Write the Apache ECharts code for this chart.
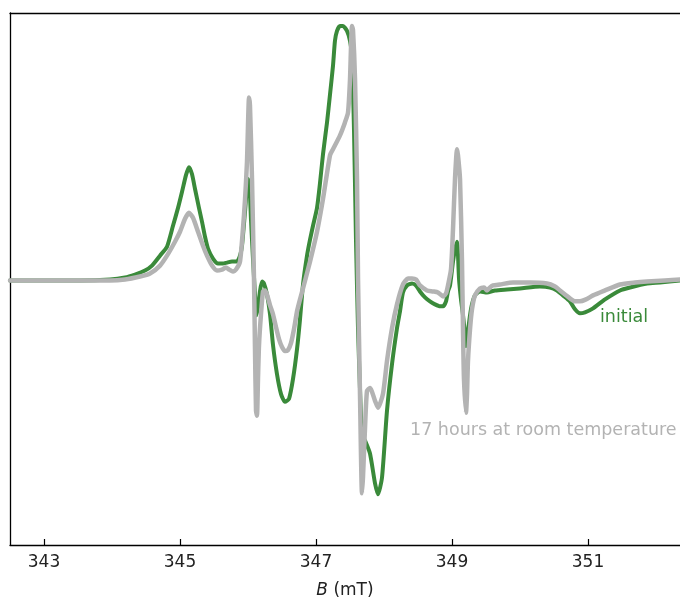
<!DOCTYPE html>
<html>
<head>
<meta charset="utf-8">
<script src="https://cdn.jsdelivr.net/npm/echarts@6/dist/echarts.min.js"></script>
<style>html,body{margin:0;padding:0;background:#fff}#c{width:680px;height:604px}</style>
</head>
<body>
<div id="c"></div>
<script>
// Magnetic field B (mT) and EPR signal (arb. units)
const initialB = [342.500,342.941,343.529,343.971,344.191,344.338,344.485,344.588,344.706,344.809,344.897,344.971,345.029,345.088,345.132,345.176,345.221,345.279,345.324,345.368,345.412,345.485,345.559,345.632,345.691,345.765,345.838,345.882,345.912,345.956,346.000,346.022,346.044,346.074,346.103,346.125,346.154,346.176,346.206,346.235,346.279,346.324,346.368,346.426,346.485,346.544,346.603,346.662,346.721,346.765,346.809,346.868,346.912,346.956,347.015,347.059,347.103,347.162,347.206,347.250,347.279,347.309,347.353,347.397,347.456,347.500,347.529,347.559,347.588,347.618,347.647,347.676,347.721,347.794,347.868,347.912,347.971,348.044,348.118,348.191,348.235,348.279,348.338,348.412,348.471,348.529,348.603,348.676,348.750,348.824,348.868,348.912,348.941,348.971,349.015,349.044,349.074,349.088,349.103,349.132,349.162,349.191,349.206,349.235,349.265,349.294,349.338,349.412,349.515,349.632,349.809,350.000,350.294,350.441,350.544,350.632,350.735,350.809,350.882,350.956,351.074,351.250,351.471,351.618,351.868,352.059,352.353];
const initialI = [-1,-1,-1,0,2,5,9,14,24,33,54,72,88,105,113,106,91,72,58,43,31,21,16,16,17,18,18,24,34,68,101,95,60,20,-15,-36,-25,-12,-2,-4,-15,-35,-66,-95,-115,-123,-120,-100,-70,-40,-5,24,40,54,72,97,126,158,186,215,240,250,255,255,250,240,225,150,40,-50,-110,-155,-162,-175,-205,-216,-199,-132,-85,-49,-32,-13,-6,-4,-6,-12,-18,-22,-25,-27,-27,-22,-12,-6,18,30,38,25,1,-20,-36,-55,-67,-52,-36,-25,-16,-12,-13,-11,-10,-9,-7,-8,-11,-16,-22,-30,-34,-33,-29,-20,-11,-8,-4,-3,-1];

const agedB = [342.500,342.941,343.529,343.971,344.191,344.412,344.559,344.706,344.809,344.926,345.000,345.074,345.132,345.191,345.265,345.338,345.397,345.471,345.544,345.618,345.676,345.721,345.779,345.824,345.882,345.926,345.956,345.985,346.000,346.015,346.029,346.059,346.088,346.103,346.118,346.132,346.147,346.162,346.191,346.221,346.250,346.279,346.324,346.368,346.412,346.456,346.500,346.544,346.588,346.632,346.676,346.721,346.765,346.809,346.912,347.015,347.103,347.206,347.250,347.353,347.426,347.471,347.500,347.529,347.544,347.574,347.603,347.618,347.647,347.676,347.691,347.721,347.750,347.794,347.868,347.912,347.985,348.044,348.118,348.191,348.279,348.353,348.412,348.471,348.529,348.632,348.721,348.794,348.868,348.912,348.941,348.985,349.015,349.044,349.074,349.088,349.118,349.147,349.162,349.176,349.206,349.221,349.235,349.265,349.294,349.338,349.412,349.471,349.515,349.559,349.603,349.706,349.897,350.147,350.397,350.515,350.588,350.662,350.735,350.809,350.882,350.971,351.074,351.250,351.471,351.691,351.868,352.132,352.353];
const agedI = [-1,-1,-1,-1,0,3,6,14,24,38,48,61,67,62,48,34,24,14,9,10,12,10,8,10,18,51,80,118,155,183,175,101,1,-70,-132,-137,-100,-66,-35,-12,-11,-15,-26,-35,-48,-60,-68,-72,-71,-64,-50,-32,-20,-9,18,48,81,125,131,145,158,168,201,255,251,201,101,1,-115,-215,-199,-149,-112,-109,-122,-129,-115,-82,-49,-25,-5,1,1,0,-6,-11,-12,-13,-17,-14,-6,10,51,101,131,125,101,18,-50,-100,-134,-115,-82,-50,-30,-16,-9,-8,-11,-8,-6,-5,-3,-3,-4,-7,-11,-15,-19,-22,-22,-20,-16,-11,-5,-3,-2,-1,0];

const tickValues = [343, 345, 347, 349, 351];
const seriesNames = ['initial', '17 hours at room temperature'];

function zip(a, b) {
  const n = Math.min(a.length, b.length);
  const out = [];
  for (let i = 0; i < n; i++) out.push([a[i], b[i]]);
  return out;
}

const GREEN = '#3a8a3a';
const GRAY = '#b3b3b3';
const FONT = 'DejaVu Sans';
const XMIN = 342.5, XMAX = 352.353;

const chart = echarts.init(document.getElementById('c'), null, {renderer: 'canvas'});
chart.setOption({
  animation: false,
  backgroundColor: '#fff',
  grid: {left: 10, right: 0, top: 13, bottom: 56, show: false, containLabel: false},
  xAxis: [{
    type: 'value', min: XMIN, max: XMAX, position: 'bottom',
    name: '{i|B} (mT)', nameLocation: 'middle', nameGap: 37,
    nameTextStyle: {fontFamily: FONT, fontSize: 17, color: '#222', rich: {i: {fontStyle: 'italic', fontFamily: FONT, fontSize: 17, color: '#222'}}},
    axisLine: {show: true, onZero: false, lineStyle: {color: '#000', width: 1.3}},
    axisTick: {show: true, inside: true, length: 6, customValues: tickValues, lineStyle: {color: '#000', width: 1.2}},
    axisLabel: {show: true, customValues: tickValues, margin: 9, fontFamily: FONT, fontSize: 17, color: '#222'},
    splitLine: {show: false}
  }, {
    type: 'value', min: XMIN, max: XMAX, position: 'top',
    axisLine: {show: true, onZero: false, lineStyle: {color: '#000', width: 1.3}},
    axisTick: {show: false}, axisLabel: {show: false}, splitLine: {show: false}
  }],
  yAxis: {
    type: 'value', min: -267, max: 268, position: 'left',
    axisLine: {show: true, onZero: false, lineStyle: {color: '#000', width: 1.3}},
    axisTick: {show: false}, axisLabel: {show: false}, splitLine: {show: false}
  },
  series: [
    {name: seriesNames[0], type: 'line', xAxisIndex: 0, data: zip(initialB, initialI), showSymbol: false, smooth: 0.2,
     lineStyle: {color: GREEN, width: 4, cap: 'round', join: 'round'}, z: 2},
    {name: seriesNames[1], type: 'line', xAxisIndex: 0, data: zip(agedB, agedI), showSymbol: false, smooth: 0.2,
     lineStyle: {color: GRAY, width: 4.5, cap: 'round', join: 'round'}, z: 3}
  ],
  graphic: [
    {type: 'text', left: 600, top: 308, style: {text: seriesNames[0], fill: GREEN, font: '17.5px "DejaVu Sans"'}},
    {type: 'text', left: 410, top: 421, style: {text: seriesNames[1], fill: GRAY, font: '17.5px "DejaVu Sans"'}}
  ]
});
</script>
</body>
</html>
